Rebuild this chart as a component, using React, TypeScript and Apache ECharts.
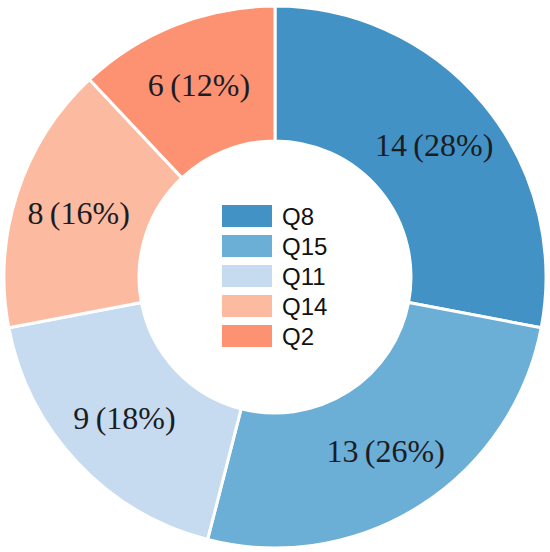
import React, { useEffect, useRef } from "react";
import * as echarts from "echarts";

const categories = ["Q8", "Q15", "Q11", "Q14", "Q2"];
const values = [14, 13, 9, 8, 6];
const colors = ["#4292c6", "#6baed6", "#c6dbef", "#fcbba1", "#fc9272"];

export default function App() {
  const ref = useRef<HTMLDivElement>(null);
  useEffect(() => {
    if (!ref.current) return;
    const chart = echarts.init(ref.current, undefined, { renderer: "svg" });
    chart.setOption({
      animation: false,
      backgroundColor: "#ffffff",
      color: colors,
      legend: {
        orient: "vertical",
        left: 222,
        top: 204,
        padding: 0,
        itemWidth: 50,
        itemHeight: 22,
        itemGap: 6,
        icon: "rect",
        itemStyle: { borderWidth: 0 },
        textStyle: {
          fontFamily: "Liberation Sans, Arial, sans-serif",
          fontSize: 24,
          lineHeight: 22,
          color: "#111",
          padding: [0, 0, 0, 5],
        },
        data: categories,
      },
      series: [
        {
          type: "pie",
          center: [275, 277],
          radius: [136, 271],
          startAngle: 90,
          clockwise: true,
          itemStyle: { borderColor: "#ffffff", borderWidth: 3 },
          label: {
            show: true,
            position: "inside",
            formatter: "{c}\u2009({d}%)",
            fontFamily: "Liberation Serif, Times New Roman, serif",
            fontSize: 32,
            color: "#1c1c24",
          },
          labelLine: { show: false },
          emphasis: { disabled: true },
          data: categories.map((c, i) => ({ name: c, value: values[i] })),
        },
      ],
    });
    return () => chart.dispose();
  }, []);
  return <div ref={ref} style={{ position: "fixed", left: 0, top: 0, width: 550, height: 552 }} />;
}
